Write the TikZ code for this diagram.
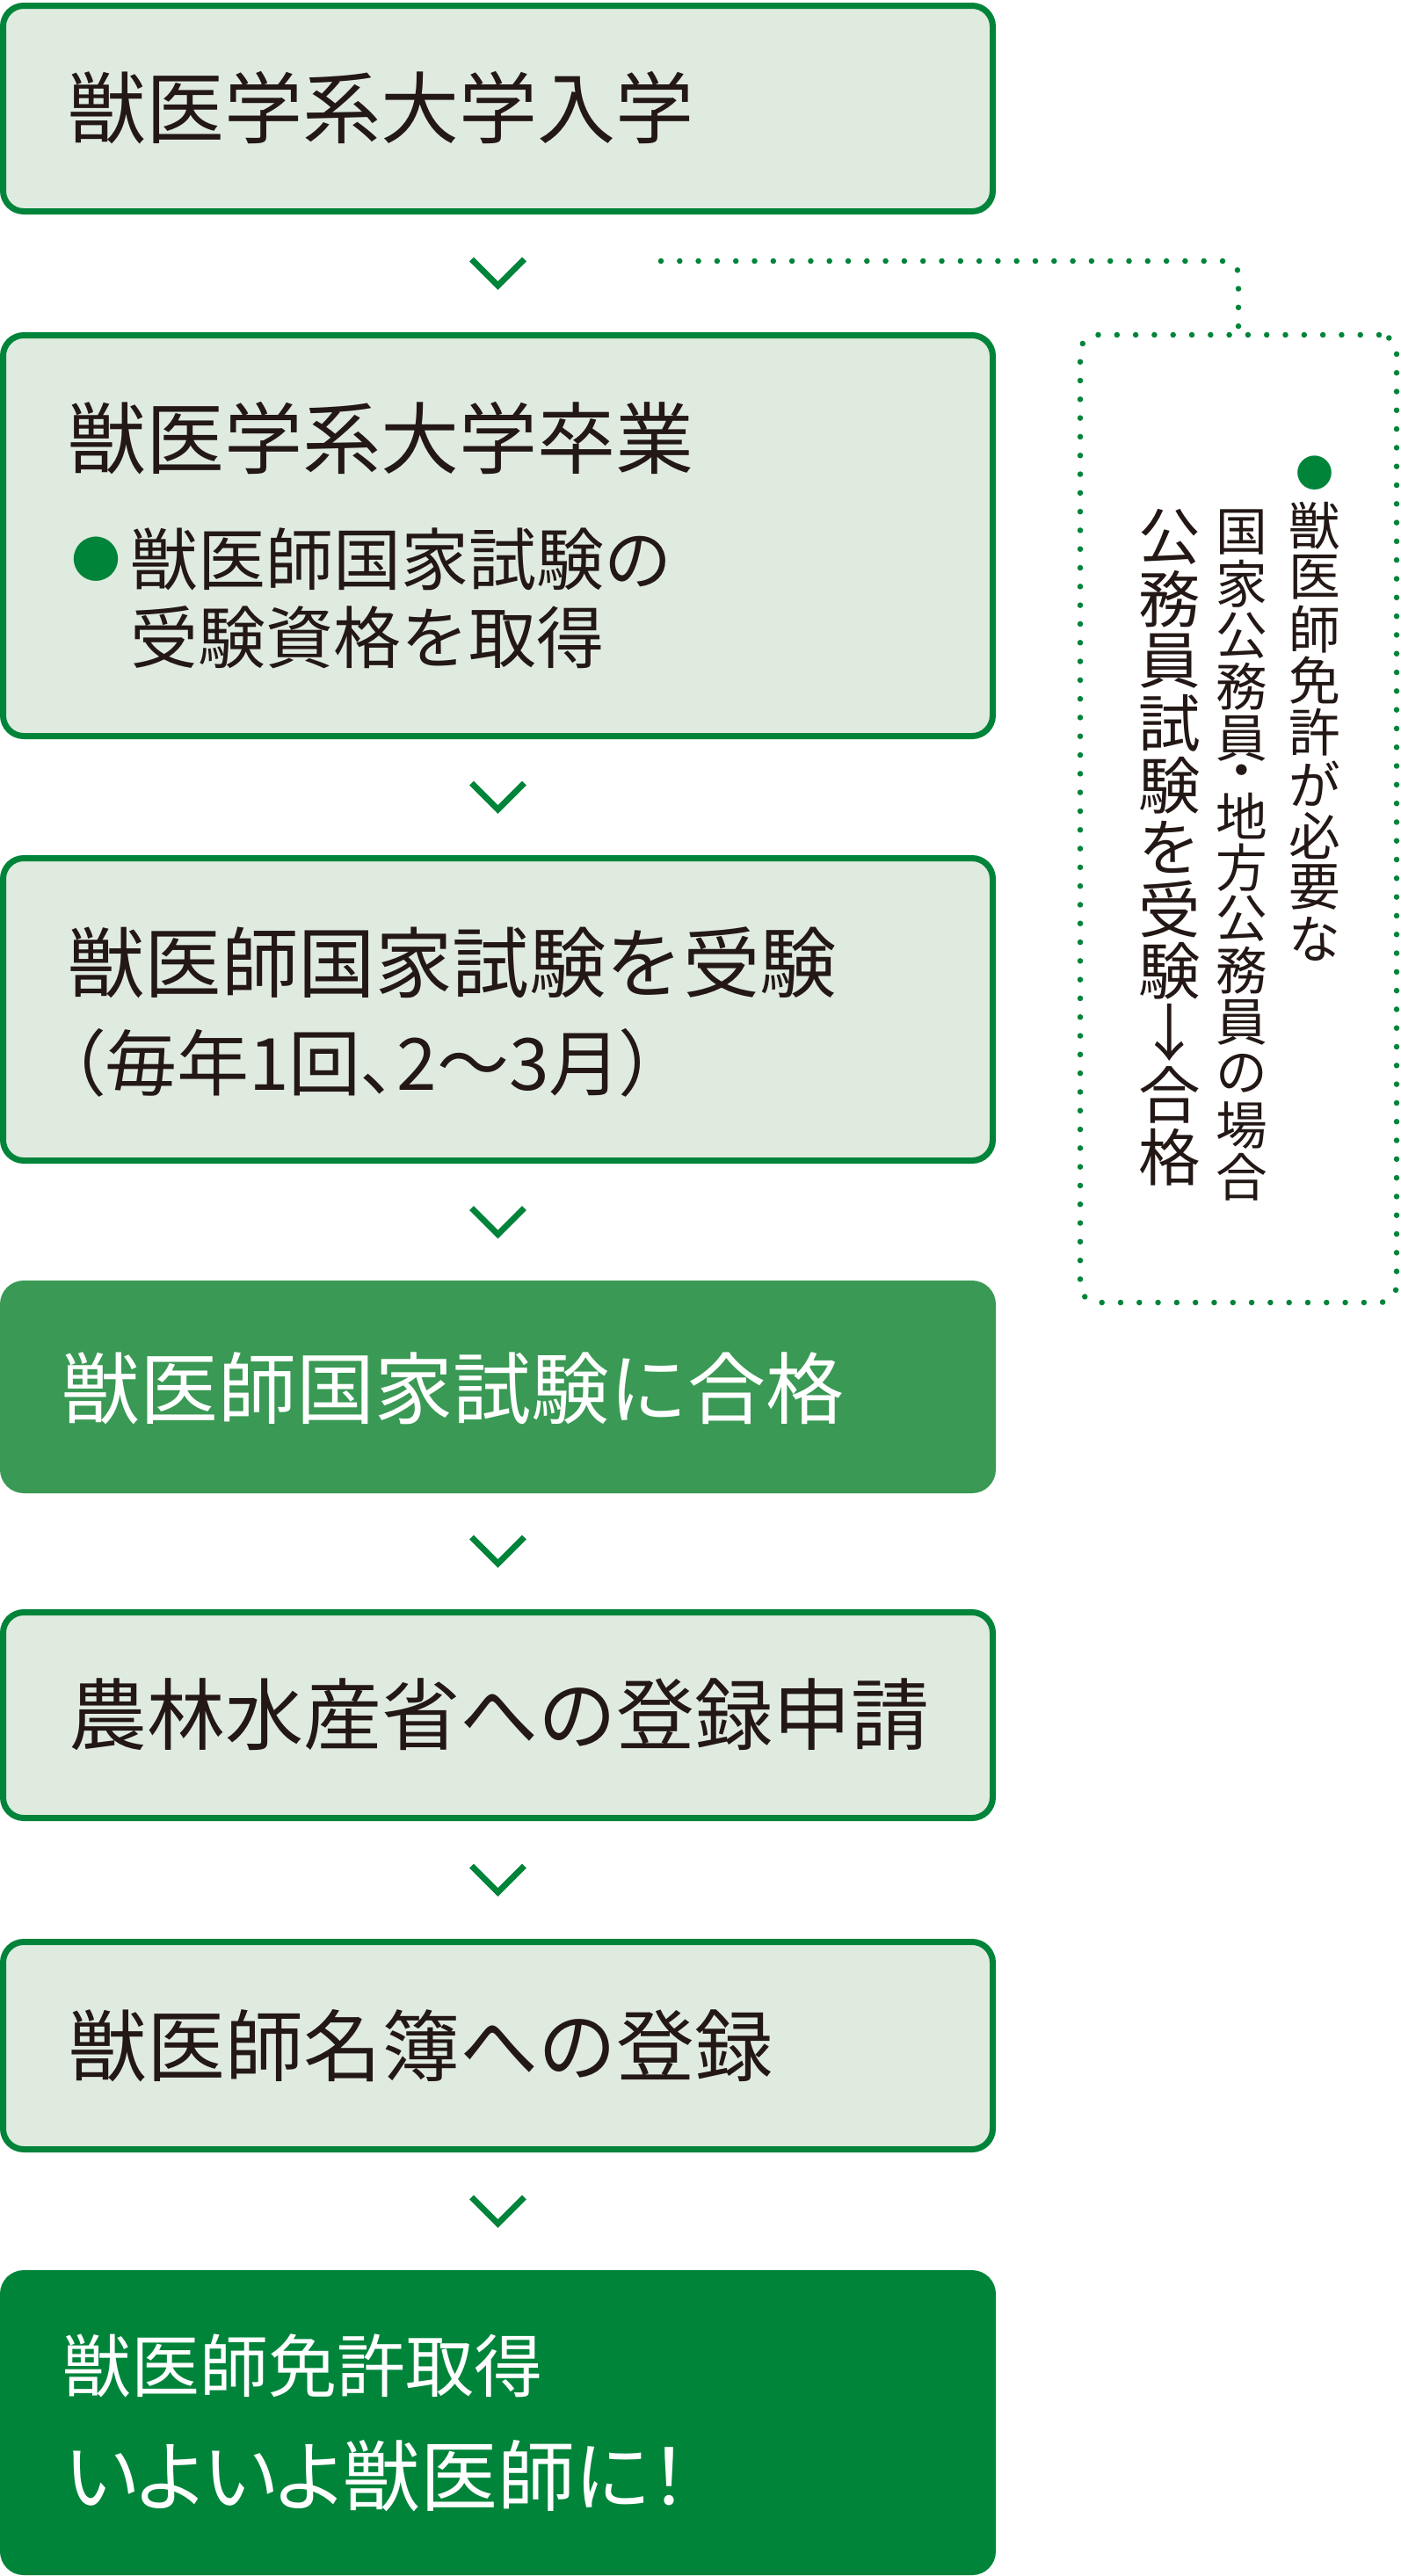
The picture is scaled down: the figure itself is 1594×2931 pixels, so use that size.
\documentclass[tikz,border=0pt]{standalone}
\usepackage{fontspec}
\setmainfont{Noto Sans CJK JP}
\newfontfamily\jpalt[RawFeature=+palt]{Noto Sans CJK JP}
\usetikzlibrary{calc}
\definecolor{gdark}{RGB}{0,132,58}
\definecolor{gmid}{RGB}{58,153,84}
\definecolor{glight}{RGB}{224,235,223}
\definecolor{inkc}{RGB}{35,24,21}
\newcommand\fsA{\fontsize{89pt}{104pt}\selectfont}
\newcommand\fsAs{\fontsize{87.5pt}{104pt}\selectfont}
\newcommand\fsP{\fontsize{82pt}{100pt}\selectfont}
\newcommand\fsB{\fontsize{77pt}{90pt}\selectfont}
\newcommand\fsBul{\fontsize{56pt}{70pt}\selectfont}
\newcommand\fsC{\fontsize{78pt}{92pt}\selectfont}
\newcommand\fsD{\fontsize{88pt}{100pt}\selectfont}
\newcommand\fsV{\fontsize{58.7pt}{70pt}\selectfont}
\newcommand\fsVbul{\fontsize{43pt}{50pt}\selectfont}
\newcommand\fsW{\fontsize{70.5pt}{84pt}\selectfont}
\begin{document}
\begin{tikzpicture}[x=1pt,y=-1pt,
  lbox/.style={draw=gdark, line width=7pt, fill=glight, rounded corners=23.5pt, minimum width=1126pt, inner sep=0pt},
  gbox/.style={fill=gmid, rounded corners=27pt, minimum width=1133pt, inner sep=0pt, outer sep=0pt},
  dbox/.style={fill=gdark, rounded corners=27pt, minimum width=1133pt, inner sep=0pt, outer sep=0pt},
  chev/.style={draw=gdark, line width=7pt},
  dots/.style={draw=gdark, line width=6.5pt, line cap=round, dash pattern=on 0pt off 21.3pt},
  txt/.style={inner sep=0pt, outer sep=0pt, anchor=base west, text=inkc},
  wtxt/.style={txt, text=white},
  vch/.style={inner sep=0pt, outer sep=0pt, anchor=center, text=inkc},
  bul/.style={inner sep=0pt, outer sep=0pt, anchor=center, text=gdark},
]
\useasboundingbox (0,0) rectangle (1594,2931);

% main boxes
\node[lbox, minimum height=234pt] (b1) at (566.5,123.5) {};
\node[lbox, minimum height=456pt] (b2) at (566.5,609.5) {};
\node[lbox, minimum height=344pt] (b3) at (566.5,1148.5) {};
\node[gbox, minimum height=242pt] (b4) at (566.5,1578) {};
\node[lbox, minimum height=234pt] (b5) at (566.5,1951.5) {};
\node[lbox, minimum height=236pt] (b6) at (566.5,2327.5) {};
\node[dbox, minimum height=347pt] (b7) at (566.5,2756.5) {};

% chevrons between boxes
\foreach \a/\b [count=\k] in {b1/b2,b2/b3,b3/b4,b4/b5,b5/b6,b6/b7}{
  \coordinate (m\k) at ($(\a.south)!0.5!(\b.north)$);
  \draw[chev] ($(m\k)+(-30,-16)$) -- ($(m\k)+(0,14)$) -- ($(m\k)+(30,-16)$);
}

% side dotted box and connector
\node[dots, rounded corners=20pt, minimum width=360pt, minimum height=1101pt, inner sep=0pt] (side) at (1409,931.5) {};
\coordinate (dstart) at (752,297);
\draw[dots, rounded corners=16pt] (dstart) -| (side.north);

% texts
\node[txt, font=\fsA] (t1) at (77,156.5) {獣医学系大学入学};
\node[txt, font=\fsA] (t2) at (77,532.5) {獣医学系大学卒業};
\node[bul, font=\fsBul] (t2dot) at (109,636) {●};
\node[txt, font=\fsB] (t2a) at (148,665) {獣医師国家試験の};
\node[txt, font=\fsB] (t2b) at (148,754) {受験資格を取得};
\node[txt, font=\fsAs] (t3) at (77,1128.5) {獣医師国家試験を受験};
\node[txt, font=\fsP\jpalt] (t3b) at (78,1240) {（毎年1回、2〜3月）};
\node[wtxt, font=\fsA] (t4) at (70,1613) {獣医師国家試験に合格};
\node[txt, font=\fsA] (t5) at (78,1984.5) {農林水産省への登録申請};
\node[txt, font=\fsA] (t6) at (78,2361) {獣医師名簿への登録};
\node[wtxt, font=\fsC] (t7) at (71,2721.5) {獣医師免許取得};
\node[wtxt, font=\fsD\jpalt] (t7b) at (74,2850) {いよいよ獣医師に！};

% vertical texts in side box
\node[bul, font=\fsVbul] (v1-b) at (1496,538) {●};
\foreach \c [count=\i from 0] in {獣,医,師,免,許,が,必,要,な}{
  \node[vch, font=\fsV] (v1-\i) at (1496,{569+(\i+0.5)*58.7}) {\c};
}
\foreach \p/\c [count=\i from 0] in {0/国,1/家,2/公,3/務,4/員,4.75/・,5.5/地,6.5/方,7.5/公,8.5/務,9.5/員,10.5/の,11.5/場,12.5/合}{
  \node[vch, font=\fsV] (v2-\i) at (1413,{576+(\p+0.5)*58.7}) {\c};
}
\foreach \c [count=\i from 0] in {公,務,員,試,験,を,受,験,↓,合,格}{
  \node[vch, font=\fsW] (v3-\i) at (1331,{576+(\i+0.5)*70.5}) {\c};
}
\end{tikzpicture}
\end{document}
